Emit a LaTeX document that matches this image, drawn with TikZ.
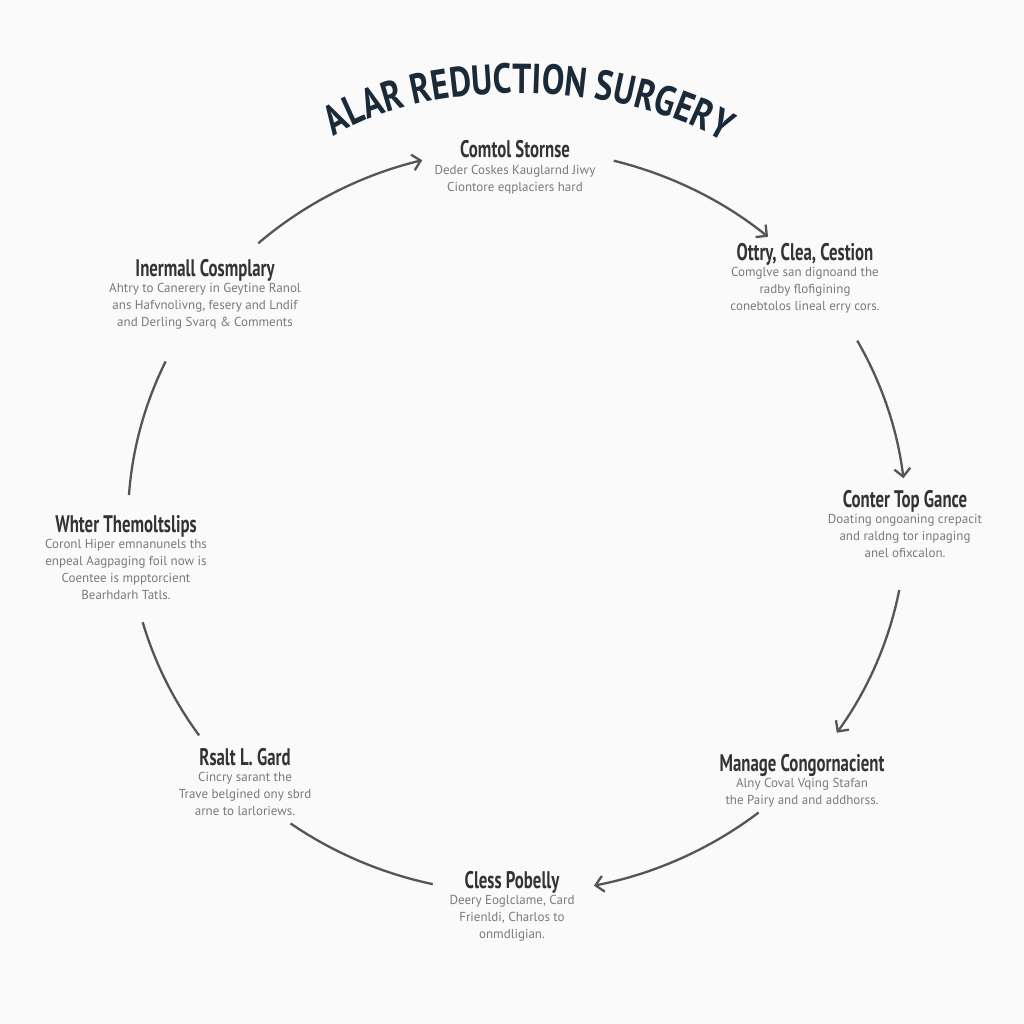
\documentclass[tikz,border=0pt]{standalone}
\usepackage{fontspec}
\usetikzlibrary{positioning,arrows.meta,decorations.text}
\newfontfamily\titlefont[FakeStretch=0.8]{PT Sans Bold}
\newfontfamily\headfont[FakeStretch=0.7]{PT Sans Bold}
\newfontfamily\bodyfont{PT Sans}
\definecolor{titleblue}{HTML}{1B2A38}
\definecolor{headgray}{HTML}{333333}
\definecolor{bodygray}{HTML}{7A7A7A}
\definecolor{arcgray}{HTML}{555555}
\tikzset{
  head/.style={font={\headfont\fontsize{24}{26}\selectfont},text=headgray,anchor=base,inner sep=0pt},
  body/.style={font={\bodyfont\fontsize{13}{17}\selectfont},text=bodygray,align=center,inner sep=0pt},
  flow/.style={draw=arcgray,line width=2.3pt,-{Straight Barb[length=8pt,width=16pt,line width=2.3pt]}},
  plain/.style={draw=arcgray,line width=2.3pt}
}
\begin{document}
\begin{tikzpicture}[x=1pt,y=-1pt]
	\fill[white!98!black](0,0)rectangle(1024,1024);
	\useasboundingbox(0,0)rectangle(1024,1024);
	\coordinate(ctr)at(517,521);
	% title on a bent baseline
	\path[decorate,decoration={text along path,text align=center,text color=titleblue,
		text={|\titlefont\fontsize{42}{42}\selectfont|ALAR REDUCTION SURGERY}}]
		(316,150)..controls(400,75)and(630,72)..(742,154);
	% stages round the ring
	\node[head](cs)at(515,158){Comtol Stornse};
	\node[body,below=7pt of cs.base](csb){Deder Coskes Kauglarnd Jiwy\\Ciontore eqplaciers hard};
	\node[head](oc)at(805,260){Ottry, Clea, Cestion};
	\node[body,below=7pt of oc.base](ocb){Comglve san dignoand the\\radby flofigining\\conebtolos lineal erry cors.};
	\node[head](ct)at(905,507){Conter Top Gance};
	\node[body,below=7pt of ct.base](ctb){Doating ongoaning crepacit\\and raldng tor inpaging\\anel ofixcalon.};
	\node[head](mc)at(802,771){Manage Congornacient};
	\node[body,below=7pt of mc.base](mcb){Alny Coval Vqing Stafan\\the Pairy and and addhorss.};
	\node[head](cp)at(512,888){Cless Pobelly};
	\node[body,below=7pt of cp.base](cpb){Deery Eoglclame, Card\\Frienldi, Charlos to\\onmdligian.};
	\node[head](rg)at(245,765){Rsalt L. Gard};
	\node[body,below=7pt of rg.base](rgb){Cincry sarant the\\Trave belgined ony sbrd\\arne to larloriews.};
	\node[head](wt)at(126,532){Whter Themoltslips};
	\node[body,below=7pt of wt.base](wtb){Coronl Hiper emnanunels ths\\enpeal Aagpaging foil now is\\Coentee is mpptorcient\\Bearhdarh Tatls.};
	\node[head](ic)at(205,276){Inermall Cosmplary};
	\node[body,below=7pt of ic.base](icb){Ahtry to Canerery in Geytine Ranol\\ans Hafvnolivng, fesery and Lndif\\and Derling Svarq \& Comments};
	% arrows on the right half
	\foreach \a/\b in {131.7/104.1,75.6/49.8,29.0/6.6,-10.7/-34.7,-51.6/-78.6}
		\draw[flow](ctr)++(\a:389pt and 372pt)coordinate(s)
			arc[start angle=\a,end angle=\b,x radius=389pt,y radius=372pt];
	% plain arcs on the left half
	\foreach \a/\b in {154.6/176,195.8/215.2,234.4/257.5}
		\draw[plain](ctr)++(\a:389pt and 372pt)coordinate(t)
			arc[start angle=\a,end angle=\b,x radius=389pt,y radius=372pt];
\end{tikzpicture}
\end{document}
